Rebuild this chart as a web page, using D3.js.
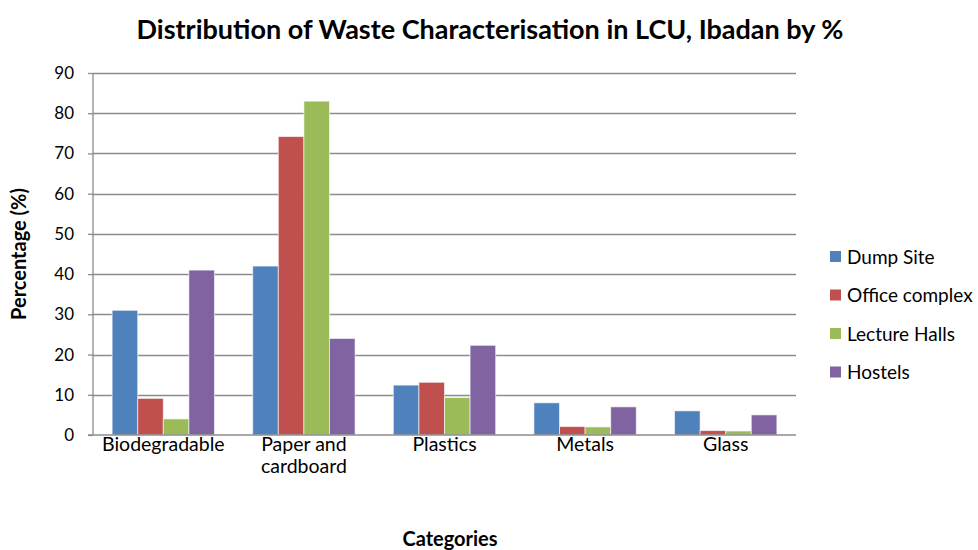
<!DOCTYPE html>
<html>
<head>
<meta charset="utf-8">
<script src="https://cdn.jsdelivr.net/npm/d3@7"></script>
<style>
	body { margin: 0; background: #fff; }
	text { font-family: Lato, "Open Sans", sans-serif; fill: #000; }
</style>
</head>
<body>
<script>
	var categories = [ "Biodegradable", "Paper and cardboard", "Plastics", "Metals", "Glass" ];
	var seriesNames = [ "Dump Site", "Office complex", "Lecture Halls", "Hostels" ];
	var dumpSite = [ 31, 42, 12.4, 8, 6 ];
	var officeComplex = [ 9.1, 74.2, 13.1, 2.1, 1.1 ];
	var lectureHalls = [ 4, 83, 9.3, 2, 1 ];
	var hostels = [ 41, 24, 22.3, 7, 5 ];
	var yTicks = [ 0, 10, 20, 30, 40, 50, 60, 70, 80, 90 ];
	var colors = [ "#4F81BD", "#C0504D", "#9BBB59", "#8064A2" ];

	var series = [ dumpSite, officeComplex, lectureHalls, hostels ];

	var width = 978, height = 550;
	var margin = { top: 73, left: 93, right: 182, bottom: 115 };

	var svg = d3.select("body").append("svg")//
	.attr("width", width)//
	.attr("height", height);

	var x0 = d3.scaleBand()//
	.domain(categories)//
	.range([ margin.left, width - margin.right ])//
	.paddingInner(0.272)//
	.paddingOuter(0.136);

	var x1 = d3.scaleBand()//
	.domain(seriesNames)//
	.range([ 0, x0.bandwidth() ]);

	var y = d3.scaleLinear()//
	.domain([ 0, 90 ])//
	.range([ height - margin.bottom, margin.top ]);

	// gridlines
	svg.append("g").selectAll("line").data(yTicks.slice(1)).enter().append("line")//
	.attr("x1", margin.left)//
	.attr("x2", width - margin.right)//
	.attr("y1", function(d) { return Math.round(y(d)) + 0.5; })//
	.attr("y2", function(d) { return Math.round(y(d)) + 0.5; })//
	.attr("stroke", "#8c8c8c")//
	.attr("stroke-width", 1.3);

	// bars
	var groups = svg.append("g").selectAll("g").data(series).enter().append("g")//
	.attr("fill", function(d, i) { return colors[i]; });

	groups.selectAll("rect").data(function(d, i) {
		return d.map(function(v, j) { return { s: i, c: categories[j], v: v }; });
	}).enter().append("rect")//
	.attr("x", function(d) { return x0(d.c) + x1(seriesNames[d.s]); })//
	.attr("y", function(d) { return y(d.v); })//
	.attr("width", x1.bandwidth())//
	.attr("height", function(d) { return y(0) - y(d.v); })//
	.attr("stroke", "rgba(255,255,255,0.6)")//
	.attr("stroke-width", 1);

	// y axis
	var yAxis = d3.axisLeft(y).tickValues(yTicks).tickSize(5).tickPadding(14);
	var gy = svg.append("g")//
	.attr("transform", "translate(" + margin.left + ",0)")//
	.call(yAxis);
	gy.selectAll("line, path").attr("stroke", "#8c8c8c").attr("stroke-width", 1.3);
	gy.select(".domain").attr("d", "M0," + y(90) + "V" + y(0));
	gy.selectAll("text").style("font-size", "17px").attr("fill", "#000").style("font-family", "Lato, sans-serif");

	// x axis baseline
	svg.append("line")//
	.attr("x1", margin.left - 5)//
	.attr("x2", width - margin.right)//
	.attr("y1", y(0))//
	.attr("y2", y(0))//
	.attr("stroke", "#8c8c8c")//
	.attr("stroke-width", 1.3);

	// x labels
	var xLabelLines = { "Paper and cardboard": [ "Paper and", "cardboard" ] };
	svg.append("g").selectAll("text").data(categories).enter().append("text")//
	.attr("x", function(d) { return x0(d) + x0.bandwidth() / 2; })//
	.attr("y", y(0) + 16)//
	.attr("text-anchor", "middle")//
	.style("font-size", "19.5px")//
	.each(function(d) {
		var lines = xLabelLines[d] || [ d ];
		var t = d3.select(this);
		lines.forEach(function(l, i) {
			t.append("tspan").attr("x", x0(d) + x0.bandwidth() / 2).attr("dy", i == 0 ? 0 : 22).text(l);
		});
	});

	// title
	svg.append("text")//
	.attr("x", 490)//
	.attr("y", 39)//
	.attr("text-anchor", "middle")//
	.style("font-size", "27px")//
	.style("font-weight", "bold")//
	.text("Distribution of Waste Characterisation in LCU, Ibadan by %");

	// axis titles
	svg.append("text")//
	.attr("x", 450)//
	.attr("y", 546)//
	.attr("text-anchor", "middle")//
	.style("font-size", "20px")//
	.style("font-weight", "bold")//
	.text("Categories");

	svg.append("text")//
	.attr("transform", "translate(26," + 254 + ") rotate(-90)")//
	.attr("text-anchor", "middle")//
	.style("font-size", "20px")//
	.style("font-weight", "bold")//
	.text("Percentage (%)");

	// legend
	var legend = svg.append("g").selectAll("g").data(seriesNames).enter().append("g")//
	.attr("transform", function(d, i) { return "translate(830," + (257 + i * 38.5) + ")"; });
	legend.append("rect")//
	.attr("x", 0)//
	.attr("y", -6)//
	.attr("width", 11)//
	.attr("height", 11)//
	.attr("fill", function(d, i) { return colors[i]; });
	legend.append("text")//
	.attr("x", 17)//
	.attr("y", 0)//
	.attr("dy", "0.35em")//
	.style("font-size", "19px")//
	.text(function(d) { return d; });
</script>
</body>
</html>
